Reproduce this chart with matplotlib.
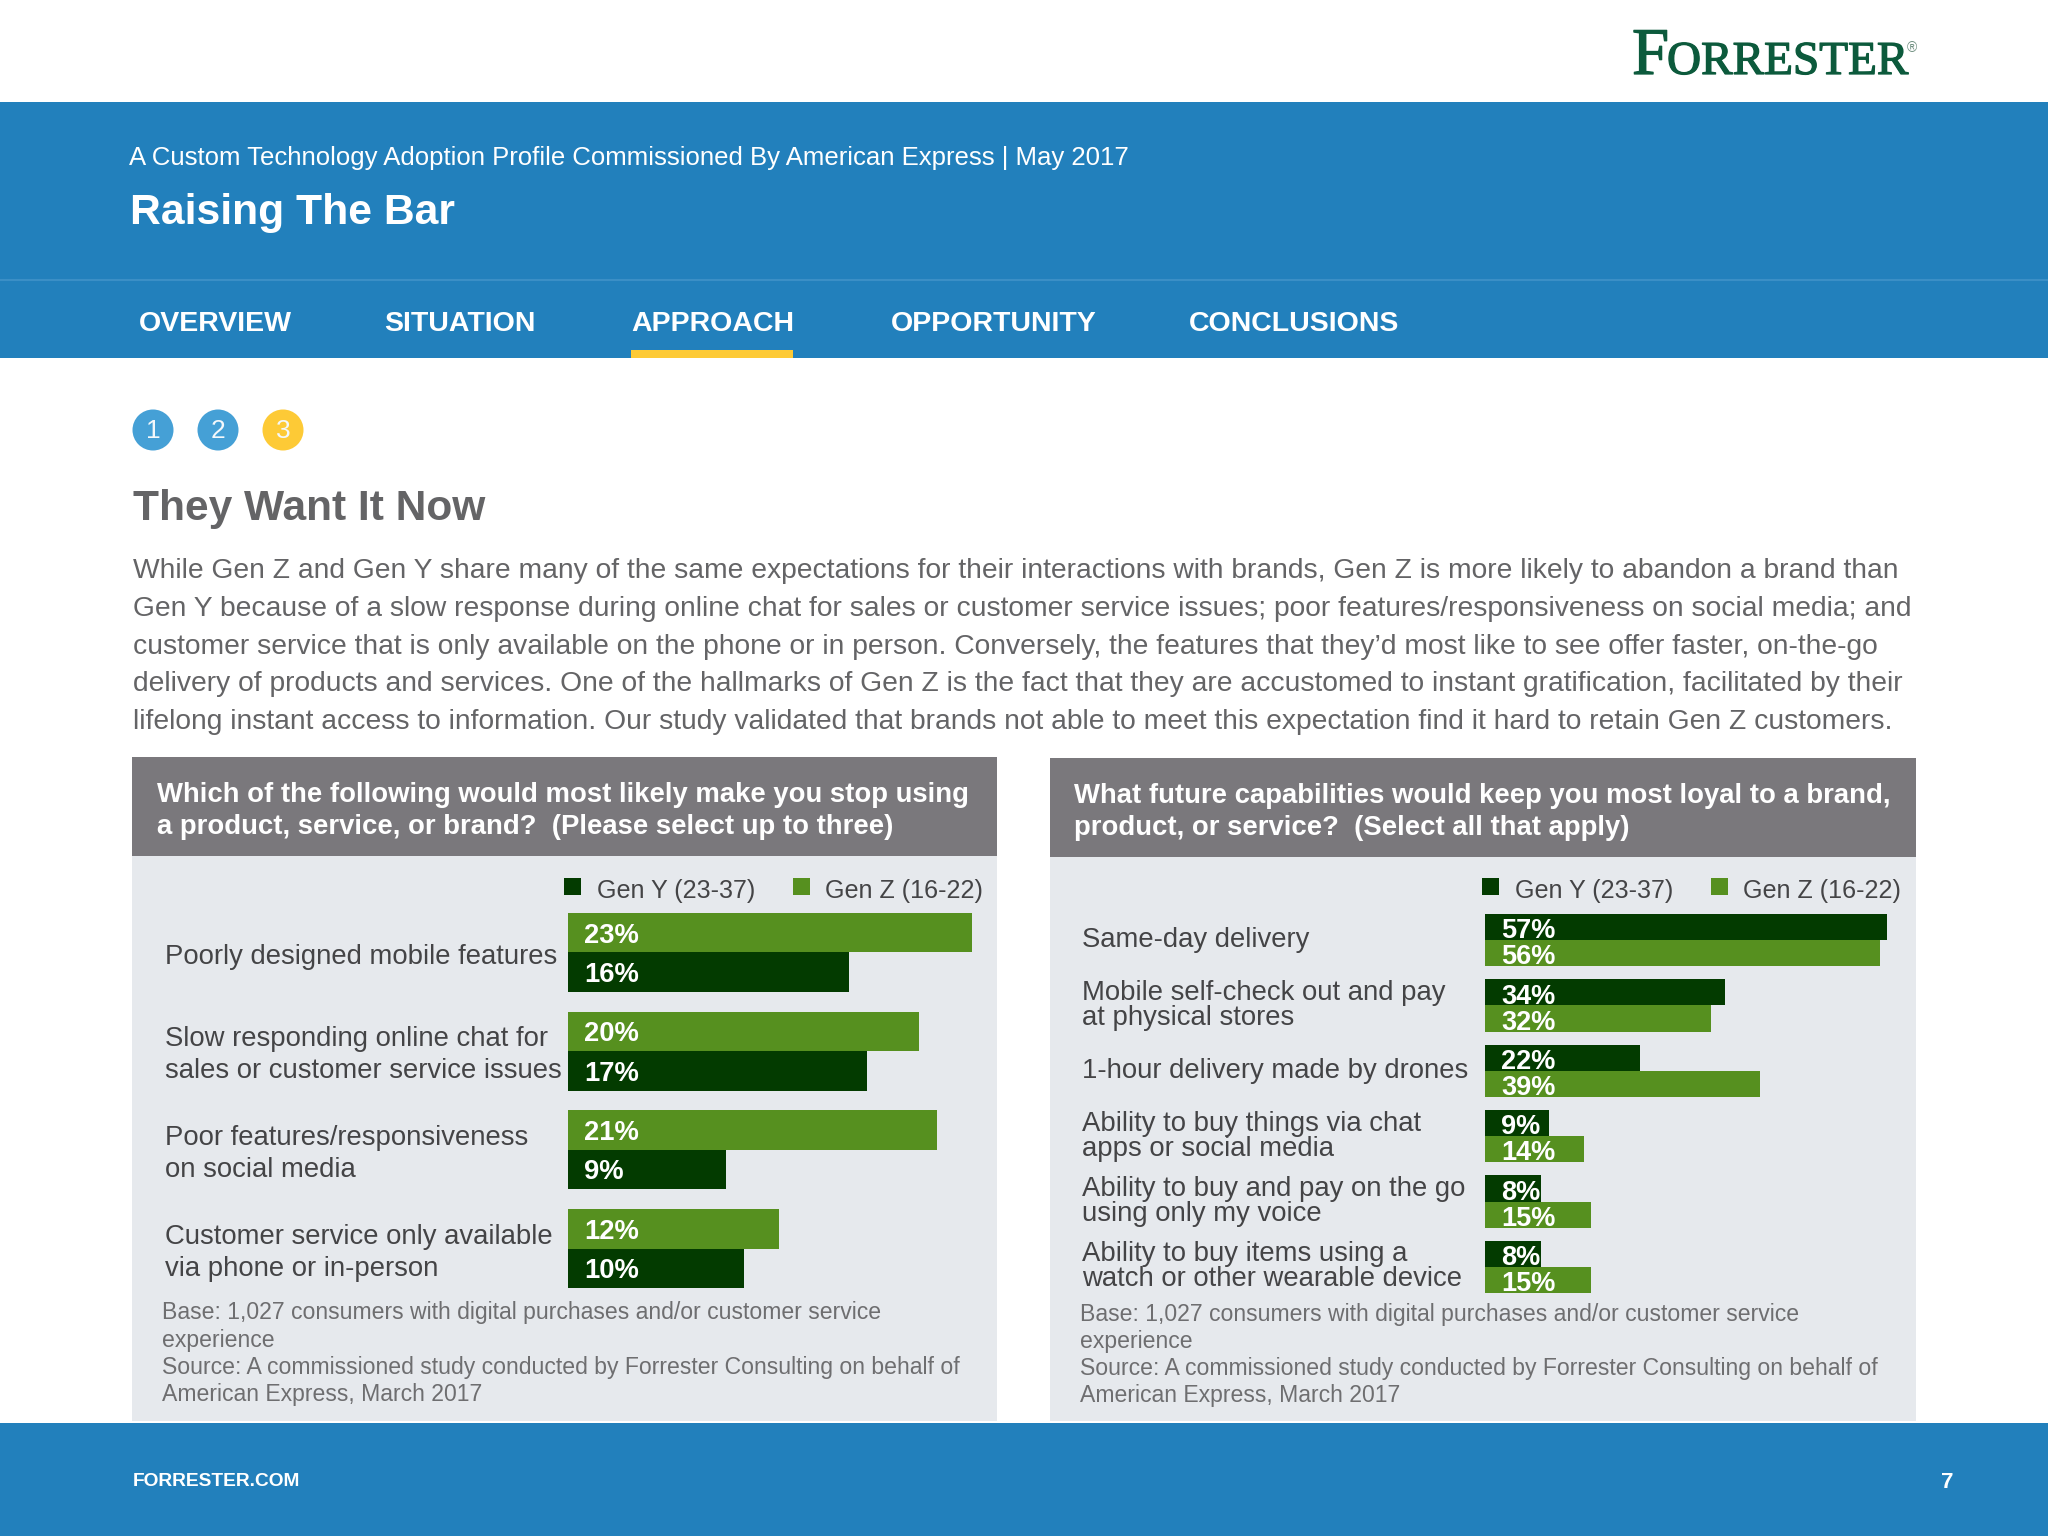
import matplotlib
matplotlib.use("Agg")
import matplotlib.pyplot as plt
import matplotlib.patheffects as pe
from matplotlib.patches import Rectangle, Circle

plt.rcParams["font.family"] = ["Liberation Sans", "DejaVu Sans"]

# Data for the two charts
left_labels = ["Poorly designed mobile features",
               "Slow responding online chat for\nsales or customer service issues",
               "Poor features/responsiveness\non social media",
               "Customer service only available\nvia phone or in-person"]
left_gen_z = [23, 20, 21, 12]
left_gen_y = [16, 17, 9, 10]

right_labels = ["Same-day delivery",
                "Mobile self-check out and pay\nat physical stores",
                "1-hour delivery made by drones",
                "Ability to buy things via chat\napps or social media",
                "Ability to buy and pay on the go\nusing only my voice",
                "Ability to buy items using a\nwatch or other wearable device"]
right_gen_y = [57, 34, 22, 9, 8, 8]
right_gen_z = [56, 32, 39, 14, 15, 15]

nav_items = ["OVERVIEW", "SITUATION", "APPROACH", "OPPORTUNITY", "CONCLUSIONS"]
nav_x = [139, 384, 631, 891, 1189]

body_lines = [
    "While Gen Z and Gen Y share many of the same expectations for their interactions with brands, Gen Z is more likely to abandon a brand than",
    "Gen Y because of a slow response during online chat for sales or customer service issues; poor features/responsiveness on social media; and",
    "customer service that is only available on the phone or in person. Conversely, the features that they\u2019d most like to see offer faster, on-the-go",
    "delivery of products and services. One of the hallmarks of Gen Z is the fact that they are accustomed to instant gratification, facilitated by their",
    "lifelong instant access to information. Our study validated that brands not able to meet this expectation find it hard to retain Gen Z customers.",
]
base_lines = ["Base: 1,027 consumers with digital purchases and/or customer service",
              "experience",
              "Source: A commissioned study conducted by Forrester Consulting on behalf of",
              "American Express, March 2017"]

BLUE = "#2280bc"
DARK = "#033b00"
GREEN = "#56901f"
YELLOW = "#fdca36"
GREY_HEAD = "#7a787c"
PANEL = "#e6e9ed"
TEXT = "#646466"
W, H = 2048, 1536

fig = plt.figure(figsize=(W / 100, H / 100), dpi=100, facecolor="white")

# Full page axes in pixels, used for the slide furniture
page = fig.add_axes([0, 0, 1, 1])
page.set_xlim(0, W)
page.set_ylim(H, 0)
page.axis("off")


def box(x0, y0, x1, y1, color):
    page.add_patch(Rectangle((x0, y0), x1 - x0, y1 - y0, color=color, lw=0))


def txt(x, y, s, size, color="white", weight="normal", ha="left", **kw):
    page.text(x, y, s, fontsize=size, color=color, fontweight=weight, ha=ha, va="center", **kw)


# Banner
box(0, 102, W, 358, BLUE)
page.plot([0, W], [280, 280], color="#3b8fc6", lw=1.5)
txt(129, 158, "A Custom Technology Adoption Profile Commissioned By American Express | May 2017", 18.53)
txt(130, 213, "Raising The Bar", 30.7, weight="bold")
for name, x in zip(nav_items, nav_x):
    txt(x, 324, name, 20.5, weight="bold")
box(631, 350, 793, 358, YELLOW)

# Logo
logo = "#0c5a3c"
heavier = [pe.withStroke(linewidth=0.9, foreground=logo)]
page.text(1632, 74, "F", fontsize=48, color=logo, family="Liberation Serif", va="baseline", path_effects=heavier)
page.text(1667, 74, "ORRESTER", fontsize=34, color=logo, family="Liberation Serif", va="baseline", path_effects=heavier)
page.text(1907, 48, "\u00ae", fontsize=10, color="#6f8f80", ha="left", va="center")

# Step circles
for i, (x, c) in enumerate(zip([153, 218, 283], ["#45a0d6", "#45a0d6", YELLOW])):
    page.add_patch(Circle((x, 430), 20.5, color=c, lw=0))
    page.text(x, 431, str(i + 1), fontsize=19, color="#f4f8fb", ha="center", va="center")

txt(133, 509, "They Want It Now", 30.6, color=TEXT, weight="bold")
for i, line in enumerate(body_lines):
    txt(133, 571.5 + i * 37.6, line, 20.37, color=TEXT)

# Panels
box(132, 757, 997, 1421, PANEL)
box(132, 757, 997, 856, GREY_HEAD)
box(1050, 758, 1916, 1421, PANEL)
box(1050, 758, 1916, 857, GREY_HEAD)
txt(157, 795, "Which of the following would most likely make you stop using", 19.85, weight="bold")
txt(157, 827, "a product, service, or brand?  (Please select up to three)", 19.85, weight="bold")
txt(1074, 796, "What future capabilities would keep you most loyal to a brand,", 19.85, weight="bold")
txt(1074, 828, "product, or service?  (Select all that apply)", 19.85, weight="bold")

# Legends
for x_off, y in [(0, 888), (918, 888)]:
    box(564 + x_off, y - 10, 581 + x_off, y + 7, DARK)
    txt(597 + x_off, y + 3, "Gen Y (23-37)", 18.05, color="#444446")
    box(793 + x_off, y - 10, 810 + x_off, y + 7, GREEN)
    txt(825 + x_off, y + 3, "Gen Z (16-22)", 18.05, color="#444446")

# Source notes
for i, line in enumerate(base_lines):
    txt(162, 1313 + i * 27.2, line, 16.58, color="#6e6e70")
    txt(1080, 1314 + i * 27.2, line, 16.58, color="#6e6e70")

# Footer
box(0, 1423, W, H, BLUE)
txt(133, 1481, "FORRESTER.COM", 13.75, weight="bold")
txt(1947, 1483, "7", 16, weight="bold", ha="center")


def bar_axes(x, top, width, bottom, xmax, n):
    ax = fig.add_axes([x / W, 1 - bottom / H, width / W, (bottom - top) / H])
    ax.set_xlim(0, xmax)
    ax.set_ylim(n - 1 + 0.4, -0.4)
    ax.axis("off")
    return ax


def draw_bars(ax, first, first_color, second, second_color, size, drop):
    for i, (a, b) in enumerate(zip(first, second)):
        ax.barh(i - 0.2, a, height=0.4, color=first_color)
        ax.barh(i + 0.2, b, height=0.4, color=second_color)
        for y, v in [(i - 0.2, a), (i + 0.2, b)]:
            ax.annotate(f"{v}%", (0, y), xytext=(11.5, drop), textcoords="offset points", color="white",
                        fontsize=size, fontweight="bold", va="center")


def draw_labels(ax, labels, x, linespacing, size, shift):
    trans = ax.get_yaxis_transform()
    x_frac = (x - ax.get_position().x0 * W) / (ax.get_position().width * W)
    for i, label in enumerate(labels):
        ax.annotate(label, (x_frac, i), xycoords=trans, xytext=(0, shift), textcoords="offset points",
                    fontsize=size, color="#444446", va="center", linespacing=linespacing,
                    annotation_clip=False)


left_ax = bar_axes(568, 913, 439, 1288, 25, 4)
draw_bars(left_ax, left_gen_z, GREEN, left_gen_y, DARK, 19.7, -2)
draw_labels(left_ax, left_labels, 165, 1.31, 19.85, -3)

right_ax = bar_axes(1485, 914, 423.5, 1293, 60, 6)
draw_bars(right_ax, right_gen_y, DARK, right_gen_z, GREEN, 19.5, -3)
draw_labels(right_ax, right_labels, 1082, 0.95, 19.85, 0)

fig.savefig("out.png", dpi=100)
